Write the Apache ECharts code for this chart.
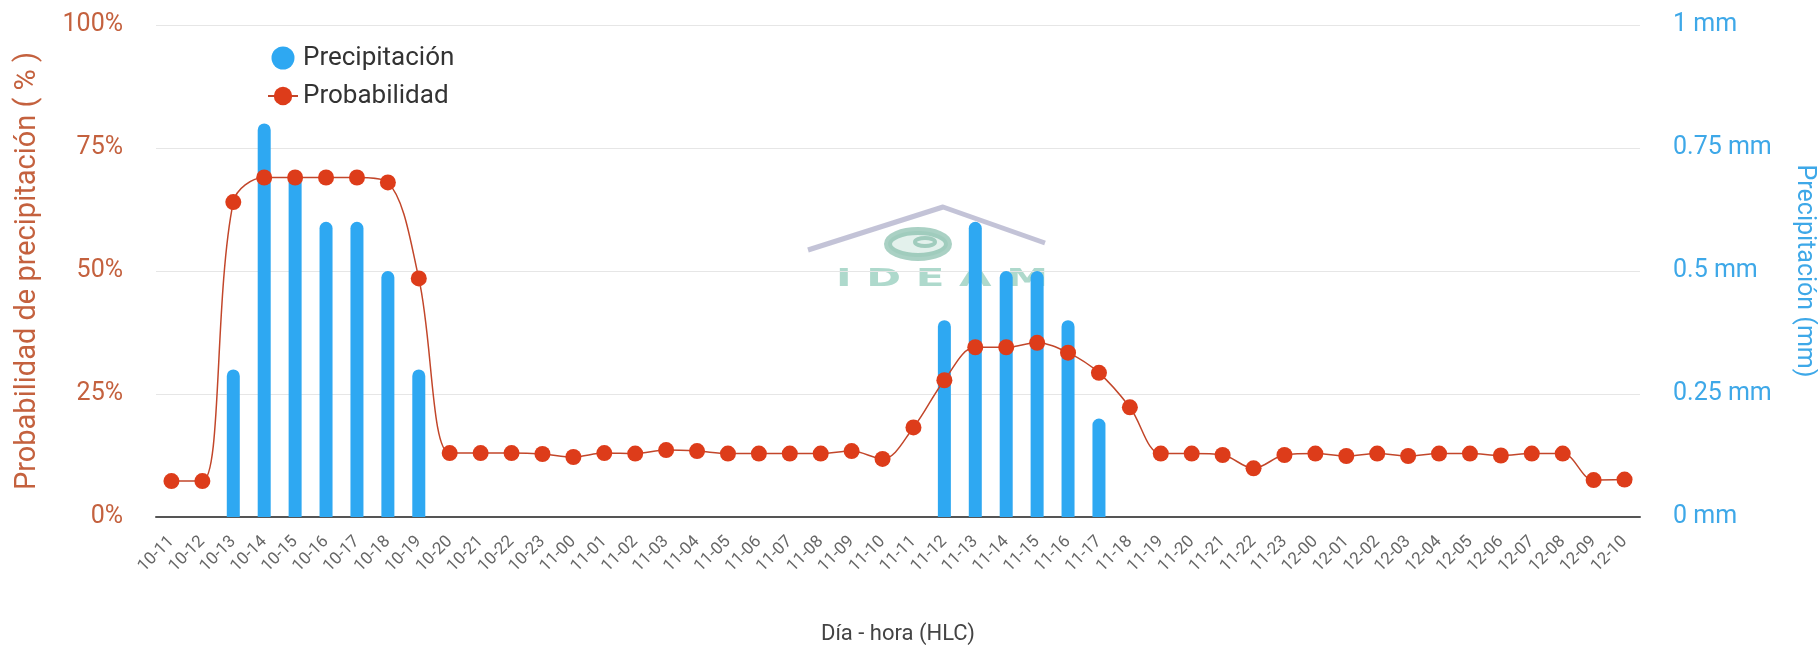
<!DOCTYPE html>
<html>
<head>
<meta charset="utf-8">
<script src="https://cdn.jsdelivr.net/npm/echarts@6/dist/echarts.min.js"></script>
<style>
html,body{margin:0;padding:0;background:#fff;}
#chart{width:1818px;height:646px;}
</style>
</head>
<body>
<div id="chart"></div>
<script>
const categories = ['10-11','10-12','10-13','10-14','10-15','10-16','10-17','10-18','10-19','10-20','10-21','10-22','10-23',
  '11-00','11-01','11-02','11-03','11-04','11-05','11-06','11-07','11-08','11-09','11-10','11-11','11-12','11-13','11-14','11-15','11-16','11-17','11-18','11-19','11-20','11-21','11-22','11-23',
  '12-00','12-01','12-02','12-03','12-04','12-05','12-06','12-07','12-08','12-09','12-10'];

const precipitacion = [0,0,0.3,0.8,0.7,0.6,0.6,0.5,0.3,0,0,0,0,
  0,0,0,0,0,0,0,0,0,0,0,0,0.4,0.6,0.5,0.5,0.4,0.2,0,0,0,0,0,0,
  0,0,0,0,0,0,0,0,0,0,0];

const probabilidad = [7.3,7.3,64,69,69,69,69,68,48.5,13,13,13,12.8,
  12.2,13,12.9,13.6,13.4,12.9,12.9,12.9,12.9,13.4,11.8,18.2,27.8,34.5,34.5,35.4,33.4,29.3,22.3,12.9,12.9,12.6,9.9,12.6,
  12.9,12.4,12.9,12.4,12.9,12.9,12.5,12.9,12.9,7.5,7.6];

const leftTicks = {min:0, max:100, interval:25};
const rightTicks = {min:0, max:1, interval:0.25};

const chart = echarts.init(document.getElementById('chart'));
const FONT = 'Roboto';
const option = {
  backgroundColor:'#ffffff',
  animation:false,
  textStyle:{fontFamily:FONT},
  graphic:[
    {type:'polyline', z:-10, silent:true,
     shape:{points:[[808,250],[943,207],[1045,243]]},
     style:{stroke:'rgba(180,180,205,0.8)', lineWidth:5, fill:null, lineJoin:'round'}},
    {type:'ellipse', z:-10, silent:true,
     shape:{cx:918, cy:244, rx:30, ry:13},
     style:{stroke:'rgba(125,185,165,0.65)', lineWidth:8, fill:'rgba(175,215,200,0.35)'}},
    {type:'ellipse', z:-10, silent:true,
     shape:{cx:925, cy:242, rx:10, ry:4},
     style:{stroke:'rgba(125,185,165,0.65)', lineWidth:4, fill:null}},
    {type:'text', z:-10, silent:true, x:836, y:268, scaleX:1.75,
     style:{text:'I D E A M', fill:'rgba(160,210,195,0.85)', font:'bold 24px "DejaVu Sans"'}}
  ],
  legend:{
    orient:'vertical', left:262, top:40,
    itemWidth:30, itemHeight:23, itemGap:12,
    textStyle:{fontSize:26, color:'#333', fontFamily:FONT},
    data:[{name:'Precipitación', icon:'circle'},{name:'Probabilidad'}]
  },
  grid:{left:156, right:178, top:25, bottom:129, containLabel:false, outerBoundsMode:'none'},
  xAxis:{
    type:'category', data:categories, boundaryGap:true,
    name:'Día - hora (HLC)', nameLocation:'middle', nameGap:106,
    nameTextStyle:{fontSize:22, color:'#444', fontFamily:FONT},
    axisLine:{lineStyle:{color:'#555', width:2}},
    axisTick:{show:false},
    axisLabel:{rotate:45, interval:0, fontSize:17, color:'#666', margin:22, fontFamily:FONT}
  },
  yAxis:[
    {type:'value', min:leftTicks.min, max:leftTicks.max, interval:leftTicks.interval, position:'left',
     name:'Probabilidad de precipitación ( % )', nameLocation:'middle', nameGap:114,
     nameTextStyle:{fontSize:29, color:'#c4613e', fontFamily:FONT},
     axisLine:{show:false}, axisTick:{show:false},
     axisLabel:{formatter:'{value}%', fontSize:25, color:'#c4613e', margin:33, fontFamily:FONT},
     splitLine:{lineStyle:{color:'#e6e6e6', width:1}}},
    {type:'value', min:rightTicks.min, max:rightTicks.max, interval:rightTicks.interval, position:'right',
     name:'Precipitación (mm)', nameLocation:'middle', nameGap:152, nameRotate:-90,
     nameTextStyle:{fontSize:25, color:'#3ea8e8', fontFamily:FONT},
     axisLine:{show:false}, axisTick:{show:false},
     axisLabel:{formatter:'{value} mm', fontSize:25, color:'#3ea8e8', margin:33, fontFamily:FONT},
     splitLine:{show:false}}
  ],
  series:[
    {name:'Precipitación', type:'bar', yAxisIndex:1, data:precipitacion, barWidth:13,
     itemStyle:{color:'#2ea8f2', borderRadius:[7,7,0,0]}, z:2},
    {name:'Probabilidad', type:'line', yAxisIndex:0, data:probabilidad, smooth:0.35,
     symbol:'circle', symbolSize:16,
     lineStyle:{color:'#c2462a', width:1.5},
     itemStyle:{color:'#dd3c1a'}, z:3}
  ]
};
chart.setOption(option);
</script>
</body>
</html>
